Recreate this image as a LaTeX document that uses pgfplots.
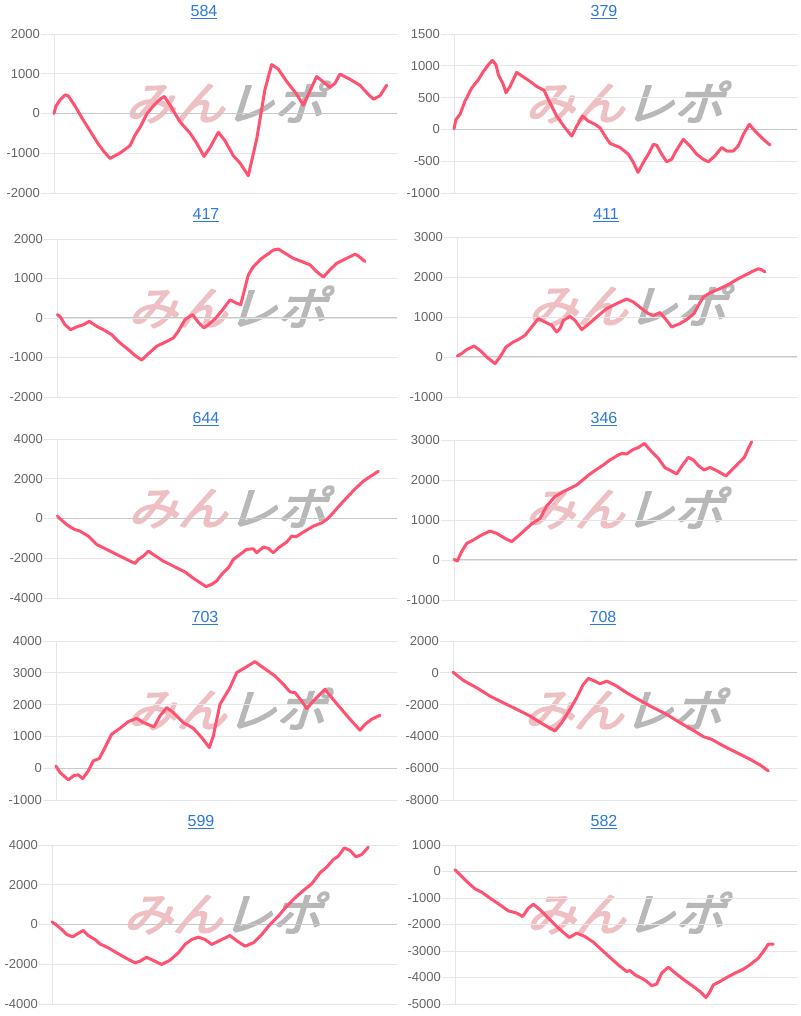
\documentclass[border=0pt]{standalone}
\usepackage{fontspec}
\setmainfont{Liberation Sans}
\newfontfamily\wmfont[FakeSlant=0.3]{Noto Sans CJK JP}
\usepackage{pgfplots}
\pgfplotsset{compat=1.18}
\definecolor{linered}{RGB}{255,82,112}
\definecolor{gridc}{RGB}{230,230,230}
\definecolor{zeroc}{RGB}{200,200,200}
\definecolor{labelc}{RGB}{102,102,102}
\definecolor{linkblue}{RGB}{45,120,220}
\definecolor{wmpink}{RGB}{238,192,196}
\definecolor{wmgray}{RGB}{184,184,184}
\pgfplotsset{
  panel/.style={
    scale only axis,
    xmax=1191,
    axis x line=none,
    axis y line*=left,
    axis line style={draw=gridc, line width=0.8pt},
    ymajorgrids,
    grid style={draw=gridc, line width=0.8pt},
    tick align=outside,
    major tick length=13pt,
    ytick style={draw=gridc, line width=0.8pt},
    yticklabel style={font=\fontsize{13}{13}\selectfont, text=labelc, inner sep=1pt},
    extra y ticks={0},
    extra y tick labels={},
    extra y tick style={grid style={draw=zeroc, line width=1pt}, major tick length=0pt},
    clip=false,
  },
  redline/.style={line width=3pt, color=linered, line join=round, line cap=round, mark=none},
}
\newcommand{\wm}[2]{%
  \node[font=\wmfont\fontsize{46}{46}\selectfont, inner sep=0pt, xscale=1.08] at (#1,#2) {\special{pdf:literal direct 2 Tr 1.6 w 1 j}\textcolor{wmpink}{みん}\textcolor{wmgray}{レポ}\special{pdf:literal direct 0 Tr}};}
\newcommand{\ttl}[3]{\node[font=\fontsize{16}{16}\selectfont, text=linkblue, inner sep=0pt] at (#1,#2) {\underline{#3}};}
\begin{document}
\begin{tikzpicture}[x=1pt,y=1pt]
\useasboundingbox (0,0) rectangle (800,1016);
% watermarks
\wm{224}{914}\wm{624}{914}
\wm{227}{709}\wm{627}{711}
\wm{227}{509}\wm{624}{508}
\wm{226}{307}\wm{623}{307}
\wm{222}{103}\wm{625}{103}
% titles
\ttl{204}{1004}{584}\ttl{604}{1004}{379}
\ttl{206}{801}{417}\ttl{606}{801}{411}
\ttl{206}{597}{644}\ttl{604}{597}{346}
\ttl{205}{398}{703}\ttl{603}{398}{708}
\ttl{201}{194}{599}\ttl{604}{194}{582}

% 584
\begin{axis}[panel, at={(54pt,823pt)}, anchor=south west, width=343pt, height=159pt,
  xmin=162, ymin=-2000, ymax=2000, ytick={-2000,-1000,0,1000,2000}, yticklabels={-2000,-1000,0,1000,2000}]
\addplot[redline] coordinates {(162,0) (168,190) (182,360) (196,470) (205,440) (225,190) (245,-100) (270,-435) (295,-770) (312,-960) (330,-1130) (360,-995) (390,-810) (405,-545) (420,-350) (440,-15) (460,190) (480,360) (493,430) (510,210) (540,-210) (570,-495) (590,-745) (612,-1080) (630,-855) (655,-475) (675,-685) (700,-1065) (720,-1245) (745,-1565) (770,-645) (795,610) (815,1230) (835,1115) (860,805) (890,485) (910,210) (930,570) (950,930) (970,795) (990,655) (1005,760) (1020,990) (1050,860) (1080,710) (1100,525) (1120,360) (1140,445) (1160,710)};
\end{axis}

% 379
\begin{axis}[panel, at={(454pt,823pt)}, anchor=south west, width=343pt, height=159pt,
  xmin=162, ymin=-1000, ymax=1500, ytick={-1000,-500,0,500,1000,1500}, yticklabels={-1000,-500,0,500,1000,1500}]
\addplot[redline] coordinates {(162,10) (168,155) (180,235) (195,445) (215,650) (235,780) (250,910) (265,1015) (277,1085) (288,1015) (295,860) (310,705) (318,575) (330,675) (350,895) (370,825) (390,755) (410,675) (432,615) (445,470) (470,210) (495,25) (515,-105) (530,50) (548,210) (565,130) (585,80) (600,25) (615,-105) (630,-220) (660,-285) (685,-390) (700,-520) (714,-675) (730,-520) (745,-390) (760,-235) (770,-250) (785,-390) (800,-510) (815,-470) (825,-365) (850,-155) (870,-260) (890,-390) (910,-470) (925,-510) (945,-415) (965,-285) (980,-340) (1000,-340) (1015,-260) (1030,-80) (1048,80) (1065,-25) (1080,-105) (1095,-180) (1110,-245)};
\end{axis}

% 417
\begin{axis}[panel, at={(57pt,619pt)}, anchor=south west, width=340pt, height=158pt,
  xmin=171, ymin=-2000, ymax=2000, ytick={-2000,-1000,0,1000,2000}, yticklabels={-2000,-1000,0,1000,2000}]
\addplot[redline] coordinates {(172,85) (180,40) (195,-170) (212,-295) (230,-225) (250,-170) (268,-85) (290,-210) (310,-295) (335,-420) (360,-630) (385,-800) (405,-950) (425,-1065) (445,-905) (470,-715) (495,-615) (520,-505) (535,-335) (555,-40) (578,85) (595,-110) (612,-250) (625,-170) (645,-25) (668,210) (690,460) (708,380) (722,335) (745,1090) (760,1300) (785,1510) (800,1595) (820,1720) (835,1745) (855,1640) (880,1510) (905,1430) (930,1345) (950,1175) (970,1035) (990,1220) (1010,1385) (1040,1510) (1065,1615) (1075,1570) (1095,1430)};
\end{axis}

% 411
\begin{axis}[panel, at={(457pt,619pt)}, anchor=south west, width=340pt, height=160pt,
  xmin=171, ymin=-1000, ymax=3000, ytick={-1000,0,1000,2000,3000}, yticklabels={-1000,0,1000,2000,3000}]
\addplot[redline] coordinates {(172,25) (185,85) (200,185) (222,275) (240,165) (260,0) (285,-165) (300,0) (318,250) (340,375) (355,435) (375,540) (395,750) (415,960) (435,875) (455,790) (470,625) (480,710) (490,915) (510,1015) (525,915) (545,685) (565,815) (590,1000) (620,1210) (650,1335) (680,1450) (700,1375) (725,1210) (745,1085) (760,1040) (780,1110) (800,915) (815,750) (840,835) (860,935) (882,1085) (895,1290) (910,1500) (935,1625) (960,1710) (990,1835) (1015,1960) (1040,2065) (1060,2150) (1075,2205) (1085,2180) (1095,2125)};
\end{axis}

% 644
\begin{axis}[panel, at={(57pt,418pt)}, anchor=south west, width=340pt, height=159pt,
  xmin=171, ymin=-4000, ymax=4000, ytick={-4000,-2000,0,2000,4000}, yticklabels={-4000,-2000,0,2000,4000}]
\addplot[redline] coordinates {(172,115) (185,-85) (200,-300) (215,-470) (225,-555) (240,-635) (265,-885) (290,-1305) (320,-1555) (350,-1810) (380,-2060) (405,-2260) (415,-2060) (430,-1890) (445,-1640) (460,-1810) (490,-2145) (520,-2395) (555,-2695) (585,-3065) (605,-3280) (618,-3430) (635,-3315) (650,-3145) (665,-2810) (685,-2480) (700,-2060) (720,-1810) (740,-1555) (760,-1525) (770,-1725) (790,-1440) (805,-1505) (820,-1725) (835,-1475) (860,-1190) (875,-885) (888,-920) (910,-685) (940,-385) (965,-220) (980,-50) (995,200) (1015,585) (1040,1040) (1065,1490) (1090,1875) (1100,1990) (1115,2160) (1135,2375)};
\end{axis}

% 346
\begin{axis}[panel, at={(454pt,416pt)}, anchor=south west, width=343pt, height=160pt,
  xmin=162, ymin=-1000, ymax=3000, ytick={-1000,0,1000,2000,3000}, yticklabels={-1000,0,1000,2000,3000}]
\addplot[redline] coordinates {(162,15) (172,-25) (185,210) (200,415) (220,500) (245,625) (270,725) (290,665) (315,540) (335,460) (355,600) (380,790) (395,900) (420,1040) (440,1350) (465,1585) (490,1710) (510,1790) (530,1875) (550,2015) (570,2150) (590,2265) (610,2375) (630,2500) (655,2625) (665,2665) (680,2650) (700,2765) (715,2810) (733,2915) (755,2705) (775,2540) (795,2305) (812,2235) (830,2150) (850,2400) (865,2565) (880,2500) (895,2360) (912,2250) (930,2315) (955,2210) (978,2100) (995,2250) (1015,2415) (1033,2565) (1045,2790) (1055,2955)};
\end{axis}

% 703
\begin{axis}[panel, at={(56pt,216pt)}, anchor=south west, width=341pt, height=159pt,
  xmin=168, ymin=-1000, ymax=4000, ytick={-1000,0,1000,2000,3000,4000}, yticklabels={-1000,0,1000,2000,3000,4000}]
\addplot[redline] coordinates {(168,65) (180,-135) (205,-365) (222,-230) (235,-210) (248,-325) (265,-85) (280,230) (298,305) (315,650) (335,1070) (360,1255) (385,1465) (410,1570) (430,1435) (462,1300) (480,1645) (500,1905) (520,1750) (550,1435) (580,1255) (605,965) (628,650) (640,1015) (660,2010) (690,2535) (710,3005) (735,3160) (765,3350) (790,3160) (825,2900) (850,2640) (870,2400) (885,2375) (905,2115) (920,1875) (945,2165) (975,2480) (995,2220) (1020,1905) (1050,1540) (1080,1195) (1095,1380) (1115,1540) (1140,1665)};
\end{axis}

% 708
\begin{axis}[panel, at={(453pt,216pt)}, anchor=south west, width=344pt, height=159pt,
  xmin=159, ymin=-8000, ymax=2000, ytick={-8000,-6000,-4000,-2000,0,2000}, yticklabels={-8000,-6000,-4000,-2000,0,2000}]
\addplot[redline] coordinates {(159,40) (190,-480) (230,-940) (270,-1465) (310,-1885) (350,-2300) (390,-2720) (430,-3245) (465,-3660) (485,-3140) (510,-2300) (530,-1570) (550,-730) (565,-355) (580,-480) (600,-690) (620,-525) (650,-835) (680,-1255) (720,-1735) (760,-2195) (800,-2615) (840,-3140) (880,-3620) (910,-4015) (935,-4185) (970,-4600) (1010,-5020) (1050,-5440) (1080,-5795) (1105,-6170)};
\end{axis}

% 599
\begin{axis}[panel, at={(52pt,12pt)}, anchor=south west, width=345pt, height=159pt,
  xmin=156, ymin=-4000, ymax=4000, ytick={-4000,-2000,0,2000,4000}, yticklabels={-4000,-2000,0,2000,4000}]
\addplot[redline] coordinates {(156,135) (170,-35) (185,-250) (200,-505) (218,-620) (232,-470) (250,-300) (265,-555) (285,-755) (300,-975) (325,-1175) (350,-1425) (380,-1710) (405,-1930) (420,-1845) (440,-1645) (460,-1810) (485,-2010) (510,-1795) (535,-1425) (555,-1005) (575,-755) (595,-635) (615,-755) (635,-1005) (655,-840) (690,-555) (712,-840) (735,-1090) (760,-920) (785,-505) (810,0) (835,420) (860,920) (885,1340) (910,1710) (935,2045) (960,2600) (980,2885) (1000,3270) (1015,3440) (1033,3855) (1050,3725) (1068,3405) (1085,3520) (1105,3890)};
\end{axis}

% 582
\begin{axis}[panel, at={(455pt,12pt)}, anchor=south west, width=342pt, height=159pt,
  xmin=165, ymin=-5000, ymax=1000, ytick={-5000,-4000,-3000,-2000,-1000,0,1000}, yticklabels={-5000,-4000,-3000,-2000,-1000,0,1000}]
\addplot[redline] coordinates {(165,65) (180,-125) (200,-375) (225,-655) (245,-780) (270,-1005) (300,-1260) (325,-1485) (350,-1570) (368,-1700) (385,-1385) (400,-1235) (420,-1445) (445,-1760) (470,-2075) (490,-2300) (508,-2490) (530,-2325) (555,-2455) (580,-2665) (605,-2955) (630,-3245) (655,-3525) (680,-3775) (690,-3735) (705,-3900) (725,-4025) (740,-4150) (755,-4305) (770,-4250) (785,-3835) (805,-3610) (830,-3875) (855,-4115) (880,-4340) (900,-4530) (918,-4755) (930,-4530) (940,-4280) (960,-4150) (980,-4000) (1005,-3835) (1030,-3685) (1050,-3520) (1075,-3270) (1090,-3020) (1105,-2740) (1120,-2740)};
\end{axis}
\end{tikzpicture}
\end{document}
